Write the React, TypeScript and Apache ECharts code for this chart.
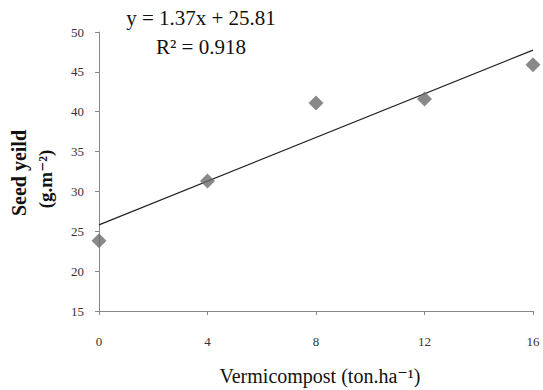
import React, { useEffect, useRef } from "react";
import * as echarts from "echarts";

const doses = [0, 4, 8, 12, 16];
const seedYield = [23.8, 31.3, 41.1, 41.6, 45.9];
const slope = 1.37;
const intercept = 25.81;
const rSquared = "0.918";
const trendX = [0, 16];

export default function App() {
  const ref = useRef<HTMLDivElement>(null);
  useEffect(() => {
    if (!ref.current) return;
    document.body.style.margin = "0";
    const chart = echarts.init(ref.current, undefined, { renderer: "svg" });
    const serif = "'Liberation Serif', 'DejaVu Serif', serif";
    chart.setOption({
      animation: false,
      backgroundColor: "#ffffff",
      grid: { left: 99, right: 10, top: 32, bottom: 79 },
      xAxis: {
        type: "value",
        min: 0,
        max: 16,
        interval: 4,
        splitLine: { show: false },
        axisLine: { show: true, lineStyle: { color: "#888", width: 1 } },
        axisTick: { show: true, length: 4, lineStyle: { color: "#888" } },
        axisLabel: { color: "#333", fontFamily: serif, fontSize: 13, margin: 24 },
      },
      yAxis: {
        type: "value",
        min: 15,
        max: 50,
        interval: 5,
        splitLine: { show: false },
        axisLine: { show: true, lineStyle: { color: "#888", width: 1 } },
        axisTick: { show: true, length: 4, lineStyle: { color: "#888" } },
        axisLabel: { color: "#333", fontFamily: serif, fontSize: 13, margin: 15 },
      },
      series: [
        {
          type: "line",
          data: trendX.map((x) => [x, intercept + slope * x]),
          symbol: "none",
          lineStyle: { color: "#222", width: 1.2 },
          z: 2,
        },
        {
          type: "scatter",
          data: doses.map((d, i) => [d, seedYield[i]]),
          symbol: "diamond",
          symbolSize: 15,
          clip: false,
          itemStyle: { color: "#6b6b6b" },
          z: 3,
        },
      ],
      graphic: [
        {
          type: "text",
          x: 201,
          y: 18,
          style: {
            text: `y = ${slope}x + ${intercept}`,
            font: `21px ${serif}`,
            fill: "#111",
            align: "center",
            verticalAlign: "middle",
          },
        },
        {
          type: "text",
          x: 201,
          y: 47,
          style: {
            text: `R² = ${rSquared}`,
            font: `21px ${serif}`,
            fill: "#111",
            align: "center",
            verticalAlign: "middle",
          },
        },
        {
          type: "text",
          x: 320,
          y: 376,
          style: {
            text: "Vermicompost (ton.ha⁻¹)",
            font: `20px ${serif}`,
            fill: "#111",
            align: "center",
            verticalAlign: "middle",
          },
        },
        {
          type: "text",
          x: 19,
          y: 173,
          rotation: Math.PI / 2,
          style: {
            text: "Seed yeild",
            font: `bold 20px ${serif}`,
            fill: "#111",
            align: "center",
            verticalAlign: "middle",
          },
        },
        {
          type: "text",
          x: 45,
          y: 179,
          rotation: Math.PI / 2,
          style: {
            text: "(g.m⁻²)",
            font: `bold 19px ${serif}`,
            fill: "#111",
            align: "center",
            verticalAlign: "middle",
          },
        },
      ],
    });
    return () => chart.dispose();
  }, []);
  return (
    <div
      ref={ref}
      style={{ position: "absolute", left: 0, top: 0, width: 543, height: 390 }}
    />
  );
}
